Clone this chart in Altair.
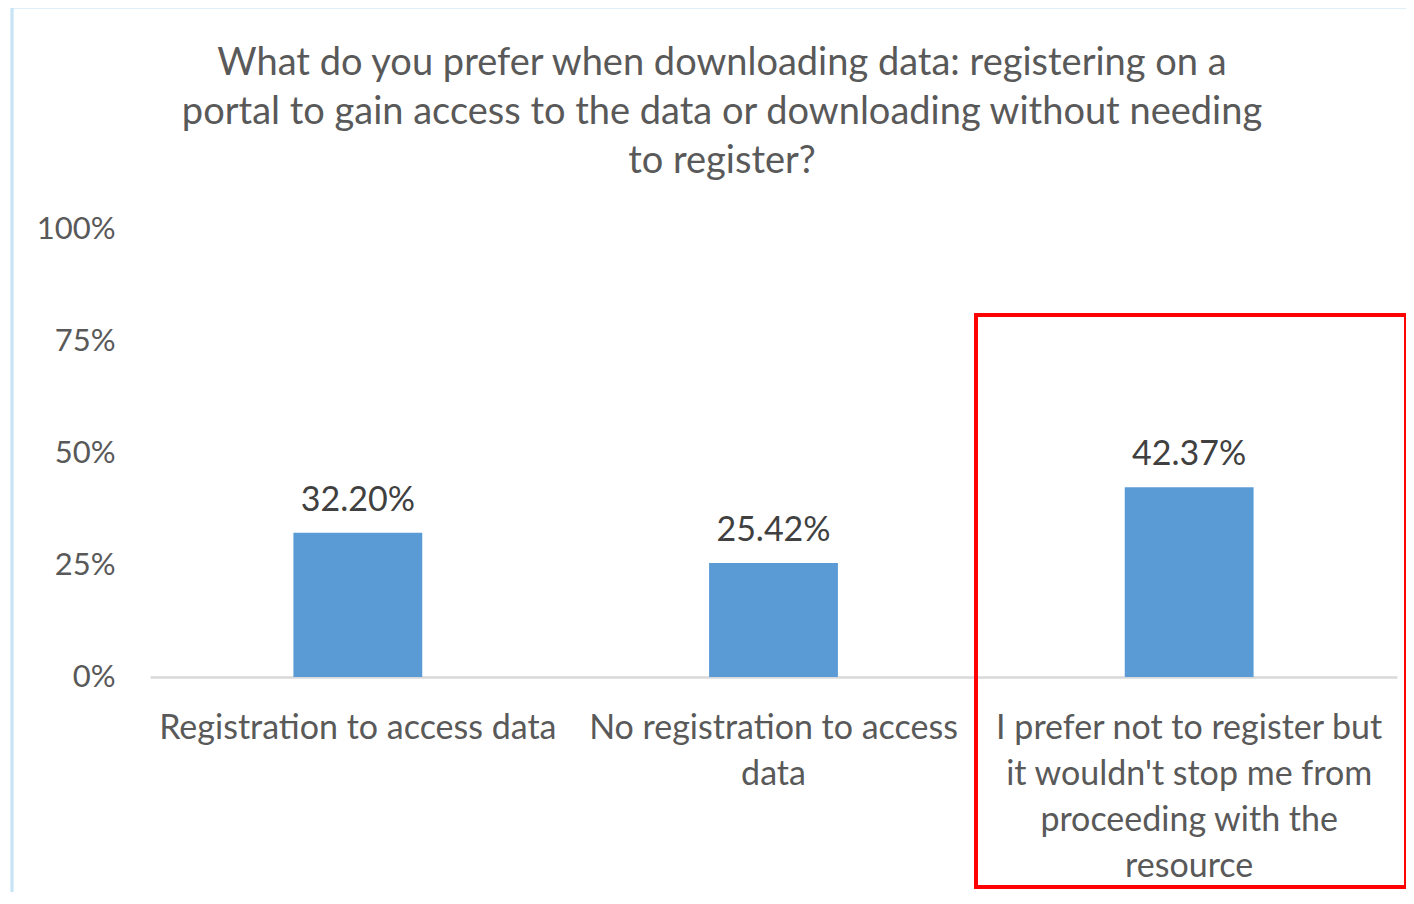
import altair as alt
import pandas as pd

categories = [
    "Registration to access data",
    "No registration to access data",
    "I prefer not to register but it wouldn't stop me from proceeding with the resource",
]
label_lines = [
    ["Registration to access data"],
    ["No registration to access", "data"],
    ["I prefer not to register but", "it wouldn't stop me from", "proceeding with the", "resource"],
]
values = [0.3220, 0.2542, 0.4237]
value_labels = ["32.20%", "25.42%", "42.37%"]
y_ticks = [0, 0.25, 0.5, 0.75, 1.0]

title_lines = [
    "What do you prefer when downloading data: registering on a",
    "portal to gain access to the data or downloading without needing",
    "to register?",
]

df = pd.DataFrame({"category": categories, "value": values, "label": value_labels})

parts = []
for c, lines in zip(categories, label_lines):
    arr = "[" + ",".join("'" + l.replace("'", "\\'") + "'" for l in lines) + "]"
    parts.append((c.replace("'", "\\'"), arr))
expr = "datum.label"
for c, arr in reversed(parts):
    expr = f"datum.label == '{c}' ? {arr} : ({expr})"

FONT = "Lato"
GRAY = "#595959"

x = alt.X(
    "category:N",
    sort=categories,
    scale=alt.Scale(paddingInner=0.69, paddingOuter=0.345),
    axis=alt.Axis(
        title=None,
        labelAngle=0,
        labelExpr=expr,
        labelFont=FONT,
        labelFontSize=34,
        labelColor=GRAY,
        labelLineHeight=46,
        labelPadding=51,
        labelBaseline="middle",
        labelLimit=0,
        ticks=False,
        domainColor="#D9D9D9",
        domainWidth=2.5,
    ),
)
y = alt.Y(
    "value:Q",
    scale=alt.Scale(domain=[0, 1]),
    axis=alt.Axis(
        title=None,
        values=y_ticks,
        format=".0%",
        labelFont=FONT,
        labelFontSize=31,
        labelColor=GRAY,
        labelPadding=35,
        ticks=False,
        domain=False,
        grid=False,
    ),
)

base = alt.Chart(df)

border = base.mark_rect(fill=None, stroke="#C6E4F6", strokeWidth=2.5, clip=False).encode(
    x=alt.value(-138), x2=alt.value(1300), y=alt.value(-222), y2=alt.value(720)
)

bars = base.mark_bar(color="#5B9BD5").encode(x=x, y=y)

text = base.mark_text(
    baseline="bottom", dy=-15, font=FONT, fontSize=34, color="#404040"
).encode(x=alt.X("category:N", sort=categories), y="value:Q", text="label:N")

highlight = base.mark_rect(fill=None, stroke="#FF0000", strokeWidth=3.5, clip=False).encode(
    x=alt.value(826), x2=alt.value(1256), y=alt.value(86), y2=alt.value(658)
)

title = alt.Chart(pd.DataFrame({"t": [0]})).mark_text(
    font=FONT, fontSize=38, color=GRAY, baseline="middle", align="center",
    lineHeight=49, clip=False,
).encode(
    x=alt.value(572), y=alt.value(-165), text=alt.value(title_lines)
)

chart = (
    alt.layer(border, bars, text, highlight, title)
    .properties(
        width=1247,
        height=448,
        autosize=alt.AutoSizeParams(type="none"),
        padding={"left": 142, "top": 221, "right": 9, "bottom": 215},
    )
    .configure_view(stroke=None)
)

chart.save("out.html", embed_options={"renderer": "svg", "actions": False})
